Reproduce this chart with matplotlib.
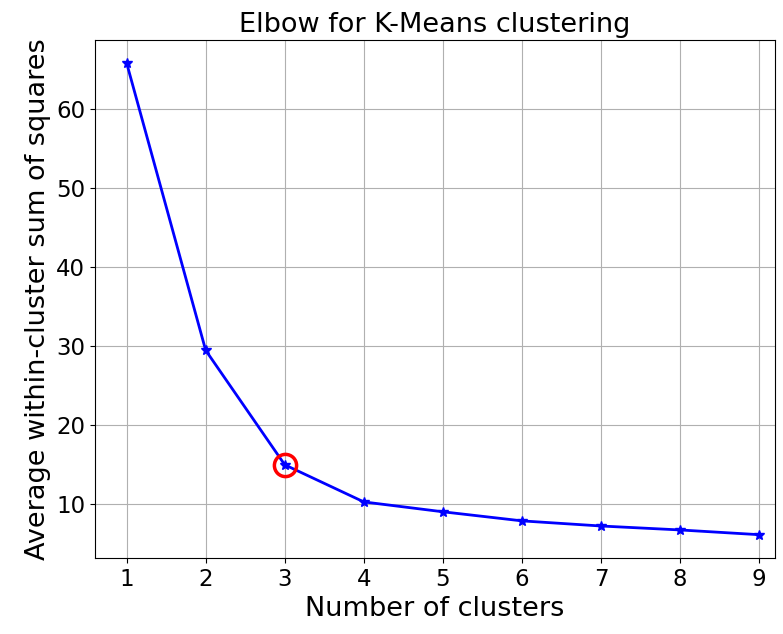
import matplotlib
matplotlib.use("Agg")
from matplotlib import pyplot as plt

# number of clusters vs average within-cluster sum of squares
k_values = [1, 2, 3, 4, 5, 6, 7, 8, 9]
avg_wss = [65.8, 29.4, 14.9, 10.2, 8.95, 7.8, 7.15, 6.65, 6.05]
elbow_k = 3

fig = plt.figure(figsize=(7.83, 6.34), dpi=100)
ax = fig.add_axes([0.1213, 0.1199, 0.8685, 0.817])

ax.plot(k_values, avg_wss, 'b*-', markersize=7, linewidth=2)
ax.plot(k_values[elbow_k - 1], avg_wss[elbow_k - 1], marker='o', markersize=16,
        markeredgewidth=2.5, markeredgecolor='r', markerfacecolor='none')

ax.set_xlim(0.6, 9.2)
ax.set_ylim(3.1, 68.7)
ax.set_xticks(k_values)
ax.grid(True)
ax.tick_params(labelsize=16.5)
ax.set_xlabel("Number of clusters", fontsize=19.5)
ax.set_ylabel("Average within-cluster sum of squares", fontsize=19.5)
ax.set_title("Elbow for K-Means clustering", fontsize=19.5)

plt.savefig("out.png", dpi=100)
